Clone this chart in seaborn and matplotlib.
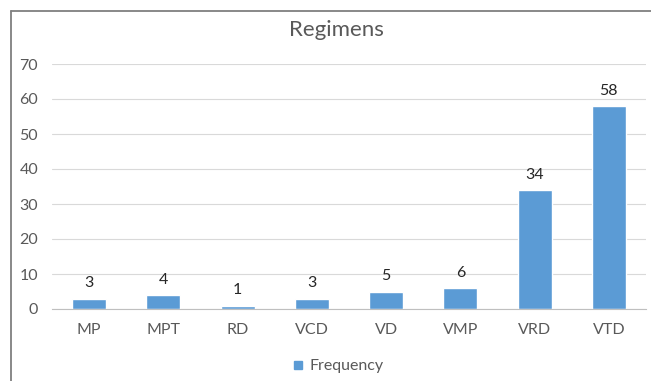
import matplotlib
matplotlib.use("Agg")
import matplotlib.pyplot as plt
import seaborn as sns
import pandas as pd
from matplotlib.lines import Line2D

categories = ["MP", "MPT", "RD", "VCD", "VD", "VMP", "VRD", "VTD"]
frequency = [3, 4, 1, 3, 5, 6, 34, 58]
yticks = [0, 10, 20, 30, 40, 50, 60, 70]

sns.set_theme(style="white")
plt.rcParams['font.family'] = ['Lato', 'DejaVu Sans']

df = pd.DataFrame({"Regimen": categories, "Frequency": frequency})
bar_color = "#5B9BD5"
gray = "#595959"

W, H = 651, 381
fig = plt.figure(figsize=(W / 100, H / 100), dpi=100)
ax = fig.add_axes([52 / W, 1 - 309 / H, 594 / W, 245 / H])

sns.barplot(data=df, x="Regimen", y="Frequency", color=bar_color,
            width=0.46, saturation=1, ax=ax)

ax.set_ylim(0, 70)
ax.set_yticks(yticks)
ax.set_xlim(-0.5, len(categories) - 0.5)
ax.set_xlabel("")
ax.set_ylabel("")
ax.yaxis.grid(True, color="#d9d9d9", linewidth=0.8)
ax.set_axisbelow(True)
for s in ["top", "right", "left"]:
    ax.spines[s].set_visible(False)
ax.spines["bottom"].set_color("#bfbfbf")
ax.spines["bottom"].set_linewidth(0.8)

ax.tick_params(axis="y", length=0, labelsize=11.5, labelcolor=gray, pad=10)
ax.tick_params(axis="x", length=0, labelsize=11.5, labelcolor=gray, pad=10)
ax.set_xticks([i - 0.5 for i in range(len(categories) + 1)], minor=True)
ax.tick_params(axis="x", which="minor", length=4, color="#bfbfbf", width=0.8, direction="out")

ax.bar_label(ax.containers[0], labels=[str(v) for v in frequency],
             padding=6, fontsize=11.5, color="#262626")

fig.text(336 / W, 1 - 30 / H, "Regimens", ha="center", va="center", fontsize=16, color=gray)

handle = Line2D([], [], marker="s", linestyle="", color=bar_color, markersize=6)
fig.legend([handle], ["Frequency"], loc="center", bbox_to_anchor=(337 / W, 1 - 366 / H),
           frameon=False, fontsize=11.5, labelcolor=gray, handletextpad=0.2,
           handlelength=1.0)

fig.add_artist(Line2D([10.5 / W, 10.5 / W], [0, 1 - 10.5 / H], transform=fig.transFigure,
                      color="#7f7f7f", linewidth=1.3))
fig.add_artist(Line2D([10.5 / W, 1], [1 - 10.5 / H, 1 - 10.5 / H], transform=fig.transFigure,
                      color="#7f7f7f", linewidth=1.3))

fig.savefig("out.png", dpi=100)
